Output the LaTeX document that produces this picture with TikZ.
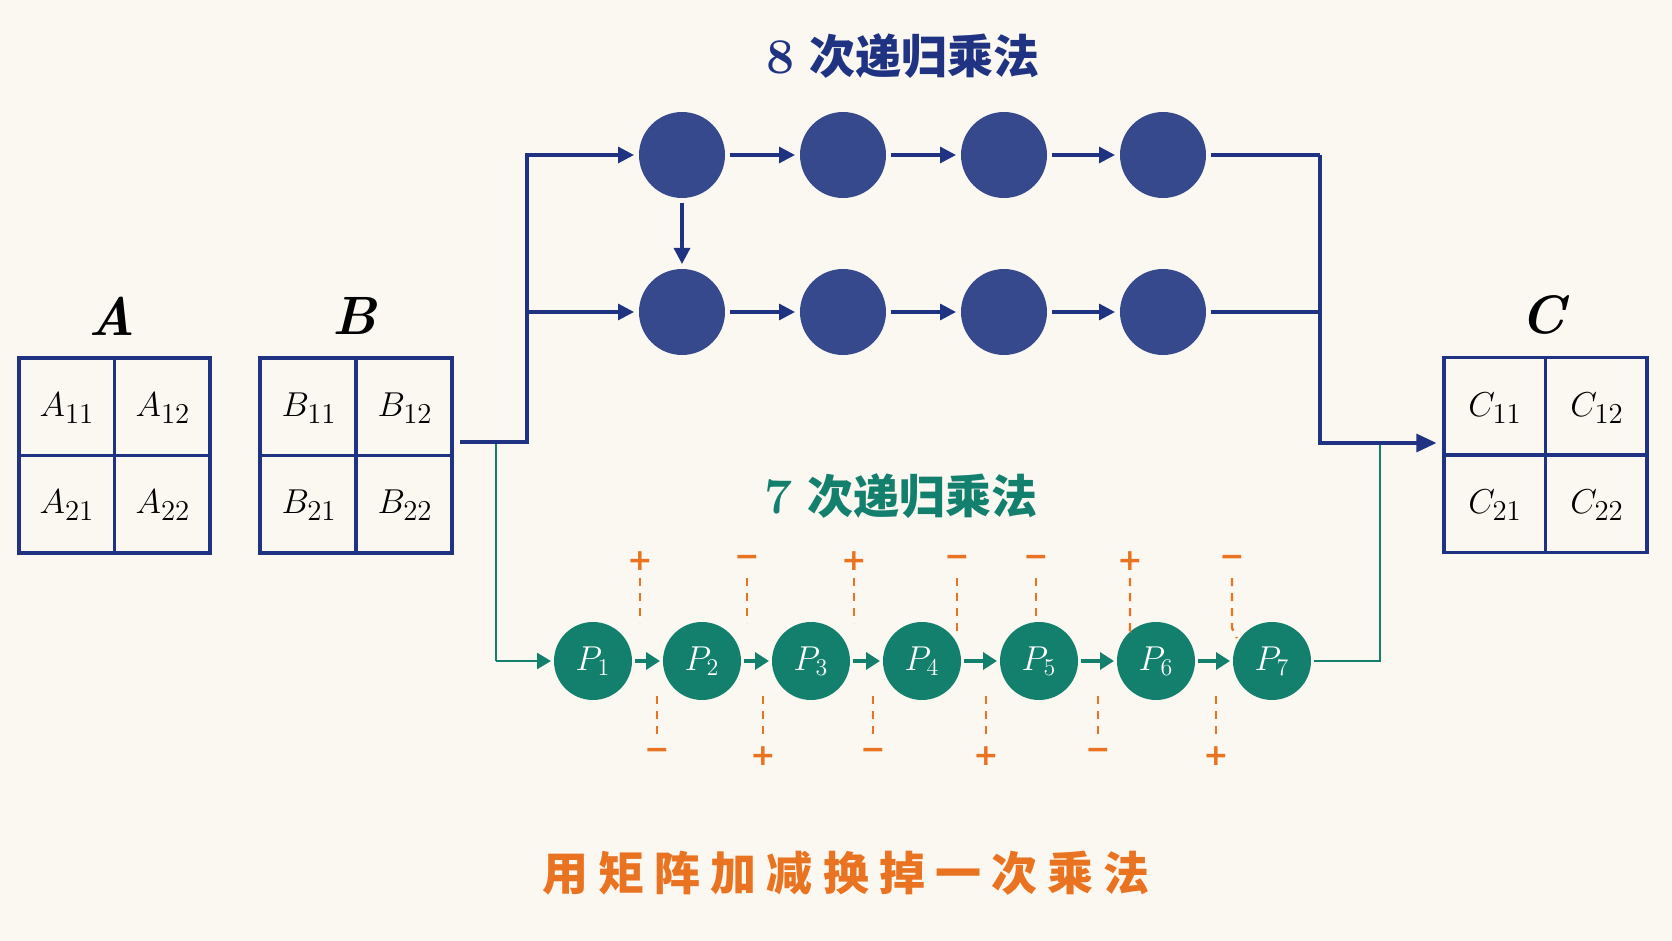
\documentclass[tikz,border=0pt]{standalone}
\usepackage{fontspec}
\newfontfamily\cjk{Noto Sans CJK SC}
\newfontfamily\cjkls[LetterSpace=22]{Noto Sans CJK SC}
\newfontfamily\djv{DejaVu Sans}
\usetikzlibrary{arrows.meta}
\definecolor{bgc}{HTML}{FBF8F2}
\definecolor{navy}{HTML}{1F3382}
\definecolor{dotblue}{HTML}{35498C}
\definecolor{pteal}{HTML}{13806E}
\definecolor{porange}{HTML}{E97320}
\begin{document}
\begin{tikzpicture}[x=0.5pt,y=-0.5pt,
  mat/.style={draw=navy,line width=1.6pt,inner sep=0pt,minimum height=97.5pt},
  biglab/.style={font=\fontsize{27}{30}\selectfont\bfseries\itshape,text=black},
  cell/.style={font=\fontsize{19}{22}\selectfont,text=black,inner sep=0pt},
  dot/.style={circle,fill=dotblue,minimum size=43pt,inner sep=0pt,outer sep=2.5pt},
  pnode/.style={circle,fill=pteal,minimum size=39pt,inner sep=0pt,outer sep=1.5pt,text=white,font=\fontsize{18}{21}\selectfont},
  bl/.style={draw=navy,line width=1.6pt},
  barrow/.style={-{Triangle[length=8pt,width=8pt]}},
  carrow/.style={-{Triangle[length=10pt,width=9pt]}},
  gl/.style={draw=pteal,line width=1.3pt},
  garrow/.style={draw=pteal,line width=2pt,-{Triangle[length=7pt,width=8.5pt]}},
  sgn/.style={text=porange,font=\djv\bfseries\fontsize{15}{18}\selectfont,inner sep=0pt},
  odash/.style={draw=porange,line width=1.2pt,dash pattern=on 4pt off 3.5pt},
  ttl/.style={font=\fontsize{23}{26}\selectfont}
]
\fill[bgc] (0,0) rectangle (1672,941);
\useasboundingbox (0,0) rectangle (1672,941);

% titles
\node[ttl,text=navy] (t8) at (903,56) {{\fontsize{25}{26}\selectfont\bfseries 8} {\cjk\bfseries 次递归乘法}};
\node[ttl,text=pteal] (t7) at (901,496) {{\fontsize{25}{26}\selectfont\bfseries 7} {\cjk\bfseries 次递归乘法}};
\node[text=porange,font=\fontsize{23}{26}\selectfont] (bot) at (846,873) {\cjkls\bfseries 用矩阵加减换掉一次乘法};

% matrices
\node[mat,minimum width=95.5pt] (A) at (114.5,455.5) {};
\node[mat,minimum width=96pt] (B) at (356,455.5) {};
\node[mat,minimum width=101.5pt] (C) at (1545.5,455) {};
\foreach \m in {A,B,C}{
  \draw[bl] (\m.north) -- (\m.south);
  \draw[bl] (\m.west) -- (\m.east);
}
\node[biglab] (Alab) at (112,316) {A};
\node[biglab] (Blab) at (355,316) {B};
\node[biglab] (Clab) at (1543,315) {C};

\node[cell] (a11) at (67,408) {$A_{11}$};
\node[cell] (a12) at (163,408) {$A_{12}$};
\node[cell] (a21) at (67,505) {$A_{21}$};
\node[cell] (a22) at (163,505) {$A_{22}$};
\node[cell] (b11) at (309,408) {$B_{11}$};
\node[cell] (b12) at (405,408) {$B_{12}$};
\node[cell] (b21) at (309,505) {$B_{21}$};
\node[cell] (b22) at (405,505) {$B_{22}$};
\node[cell] (c11) at (1495,408) {$C_{11}$};
\node[cell] (c12) at (1597,408) {$C_{12}$};
\node[cell] (c21) at (1495,505) {$C_{21}$};
\node[cell] (c22) at (1597,505) {$C_{22}$};

% blue circles
\node[dot] (D1) at (682,155) {};
\node[dot] (D2) at (843,155) {};
\node[dot] (D3) at (1004,155) {};
\node[dot] (D4) at (1163,155) {};
\node[dot] (D5) at (682,312) {};
\node[dot] (D6) at (843,312) {};
\node[dot] (D7) at (1004,312) {};
\node[dot] (D8) at (1163,312) {};

% P circles
\node[pnode] (P1) at (593,661) {$P_1$};
\node[pnode] (P2) at (702,661) {$P_2$};
\node[pnode] (P3) at (811,661) {$P_3$};
\node[pnode] (P4) at (922,661) {$P_4$};
\node[pnode] (P5) at (1039,661) {$P_5$};
\node[pnode] (P6) at (1156,661) {$P_6$};
\node[pnode] (P7) at (1272,661) {$P_7$};

% junction coordinates
\coordinate (bout) at (460,442);
\coordinate (gj) at (496,442);
\coordinate (bj) at (527,442);
\coordinate (jt) at (527,155);
\coordinate (jb) at (527,312);
\coordinate (gc) at (496,661);
\coordinate (rt) at (1320,155);
\coordinate (rb) at (1320,312);
\coordinate (rj) at (1320,443);
\coordinate (gr) at (1380,661);
\coordinate (gq) at (1380,443);

% connectors
\draw[gl] (gj) -- (gc);
\draw[gl,-{Triangle[length=7pt,width=8pt]}] (gc) -- (P1);
\draw[bl,barrow] (bout) -- (bj) -- (jt) -- (D1);
\draw[bl,barrow] (jb) -- (D5);
\draw[bl,barrow] (D1) -- (D2);
\draw[bl,barrow] (D2) -- (D3);
\draw[bl,barrow] (D3) -- (D4);
\draw[bl,barrow] (D5) -- (D6);
\draw[bl,barrow] (D6) -- (D7);
\draw[bl,barrow] (D7) -- (D8);
\draw[bl,barrow] (D1) -- (D5);
\draw[bl] (D4) -- (rt);
\draw[bl] (D8) -- (rb);
\draw[gl] (P7) -- (gr) -- (gq);
\draw[bl,carrow,shorten >=3pt] (rt) -- (rj) -- (C.west |- rj);

% green chain
\draw[garrow] (P1) -- (P2);
\draw[garrow] (P2) -- (P3);
\draw[garrow] (P3) -- (P4);
\draw[garrow] (P4) -- (P5);
\draw[garrow] (P5) -- (P6);
\draw[garrow] (P6) -- (P7);

% orange signs top
\node[sgn] (s1) at (640,561) {+};
\node[sgn] (s2) at (747,561) {−};
\node[sgn] (s3) at (854,561) {+};
\node[sgn] (s4) at (957,561) {−};
\node[sgn] (s5) at (1036,561) {−};
\node[sgn] (s6) at (1130,561) {+};
\node[sgn] (s7) at (1232,561) {−};
\draw[odash] (640,578) -- (640,623);
\draw[odash] (747,578) -- (747,623);
\draw[odash] (854,578) -- (854,623);
\draw[odash] (957,578) -- (957,632) -- (P4.40);
\draw[odash] (1036,578) -- (1036,622);
\draw[odash] (1130,578) -- (1130,630) -- (P6.130);
\draw[odash] (1232,578) -- (1232,628) -- (P7.147);

% orange signs bottom
\node[sgn] (u1) at (657,754) {−};
\node[sgn] (u2) at (763,756) {+};
\node[sgn] (u3) at (873,754) {−};
\node[sgn] (u4) at (986,756) {+};
\node[sgn] (u5) at (1098,754) {−};
\node[sgn] (u6) at (1216,756) {+};
\foreach \x in {657,763,873,986,1098,1216}{
  \draw[odash] (\x,696) -- (\x,740);
}
\end{tikzpicture}
\end{document}
